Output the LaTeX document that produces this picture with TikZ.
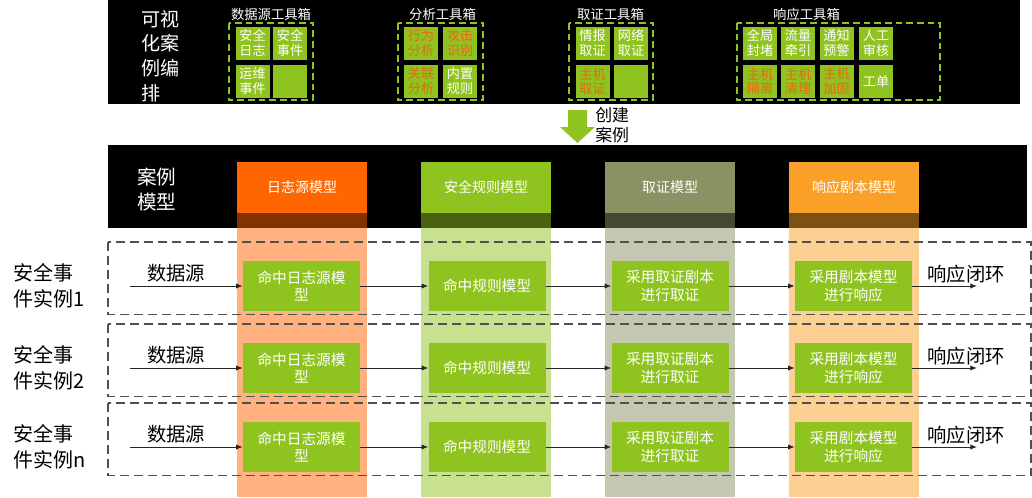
\documentclass[tikz,border=0pt]{standalone}
\usepackage{fontspec}
\setmainfont{Noto Sans CJK SC}
\usetikzlibrary{arrows.meta}
\definecolor{tg}{RGB}{143,195,31}
\definecolor{torange}{RGB}{255,102,0}
\definecolor{tolive}{RGB}{140,145,100}
\definecolor{tamber}{RGB}{250,160,40}
\definecolor{otext}{RGB}{240,100,20}
\definecolor{dashgray}{RGB}{80,80,80}
\begin{document}
\begin{tikzpicture}[x=0.75pt,y=-0.75pt,
 toolsq/.style={fill=tg, minimum width=25.5pt, minimum height=24.75pt, inner sep=0pt, align=center, text=white, font=\fontsize{9.8}{11.2}\selectfont},
 otool/.style={toolsq, text=otext},
 tooltitle/.style={text=white, font=\fontsize{10}{12}\selectfont, inner sep=0pt},
 toolframe/.style={draw=tg, dash pattern=on 5pt off 3pt, line width=1pt},
 header/.style={minimum width=97.5pt, minimum height=38.25pt, inner sep=0pt, text=white, font=\fontsize{10.5}{12}\selectfont},
 procbox/.style={fill=tg, minimum width=87.75pt, minimum height=37.5pt, inner sep=0pt, text=white, align=center, font=\fontsize{11}{13}\selectfont},
 rowframe/.style={draw=dashgray, dash pattern=on 7pt off 3.5pt, line width=0.9pt},
 flow/.style={draw=black!85, line width=0.75pt, -{Latex[length=5pt,width=4pt]}},
 midtext/.style={font=\fontsize{14.5}{18.5}\selectfont, inner sep=0pt},
 sidetext/.style={font=\fontsize{15}{19.5}\selectfont, inner sep=0pt, align=left},
]
\useasboundingbox (0,0) rectangle (1032,497);
% black bands
\fill[black] (108,0) rectangle (1020,104);
\fill[black] (108,145) rectangle (1027,228);

% top band
\node[anchor=west, text=white, font=\fontsize{14.3}{18.4}\selectfont, align=left, inner sep=0pt] (vis) at (141,56) {可视\\化案\\例编\\排};

% data source toolbox
\node[tooltitle] (t1) at (271,14.5) {数据源工具箱};
\draw[toolframe] (229,23) rectangle (313,100);
\node[toolsq] (q11) at (252.5,43) {安全\\日志};
\node[toolsq] (q12) at (290,43) {安全\\事件};
\node[toolsq] (q13) at (252.5,81.5) {运维\\事件};
\node[toolsq] (q14) at (290,81.5) {};

% analysis toolbox
\node[tooltitle] (t2) at (442.5,14.5) {分析工具箱};
\draw[toolframe] (398,23) rectangle (483,100);
\node[otool] (q21) at (421,43) {行为\\分析};
\node[otool] (q22) at (460,43) {攻击\\识别};
\node[otool] (q23) at (421,81.5) {关联\\分析};
\node[toolsq] (q24) at (460,81.5) {内置\\规则};

% forensics toolbox
\node[tooltitle] (t3) at (610.5,14.5) {取证工具箱};
\draw[toolframe] (569,23) rectangle (653,100);
\node[toolsq] (q31) at (592.5,43) {情报\\取证};
\node[toolsq] (q32) at (631,43) {网络\\取证};
\node[otool] (q33) at (592.5,81.5) {主机\\取证};
\node[toolsq] (q34) at (631,81.5) {};

% response toolbox
\node[tooltitle] (t4) at (806.5,14.5) {响应工具箱};
\draw[toolframe] (737,23) rectangle (940,100);
\node[toolsq] (q41) at (760,43) {全局\\封堵};
\node[toolsq] (q42) at (798,43) {流量\\牵引};
\node[toolsq] (q43) at (836.5,43) {通知\\预警};
\node[toolsq] (q44) at (876,43) {人工\\审核};
\node[otool] (q45) at (760,81.5) {主机\\隔离};
\node[otool] (q46) at (798,81.5) {主机\\清理};
\node[otool] (q47) at (836.5,81.5) {主机\\加固};
\node[toolsq] (q48) at (876,81.5) {工单};

% create arrow
\fill[tg] (568,110) -- (587,110) -- (587,127) -- (595,127) -- (577.5,143) -- (560,127) -- (568,127) -- cycle;
\node[anchor=west, font=\fontsize{12.7}{15}\selectfont, align=left, inner sep=0pt] (create) at (595,125.5) {创建\\案例};

% case model band
\node[anchor=west, text=white, font=\fontsize{14.7}{18.75}\selectfont, align=left, inner sep=0pt] (cm) at (137,189.5) {案例\\模型};

% columns
\fill[torange, opacity=0.5] (237,213) rectangle (367,497);
\fill[tg, opacity=0.5] (421,213) rectangle (551,497);
\fill[tolive, opacity=0.5] (605,213) rectangle (735,497);
\fill[tamber, opacity=0.5] (789,213) rectangle (919,497);
\node[header, fill=torange] (h1) at (302,187.5) {日志源模型};
\node[header, fill=tg] (h2) at (486,187.5) {安全规则模型};
\node[header, fill=tolive] (h3) at (670,187.5) {取证模型};
\node[header, fill=tamber] (h4) at (854,187.5) {响应剧本模型};

% instance rows
\foreach \i/\y/\lab in {1/286/1, 2/368/2, 3/447/n}{
  \draw[rowframe] (108,\y-44) rectangle (1031,\y+28.5);
  \node[sidetext, anchor=west] (lab\i) at (13,\y) {安全事\\件实例\lab};
  \node[midtext] (ds\i) at (176,\y-13) {数据源};
  \coordinate (s\i) at (130,\y);
  \node[procbox] (a\i) at (301.5,\y) {命中日志源模\\型};
  \node[procbox] (b\i) at (487,\y) {命中规则模型};
  \node[procbox] (c\i) at (670,\y) {采用取证剧本\\进行取证};
  \node[procbox] (d\i) at (853.5,\y) {采用剧本模型\\进行响应};
  \node[midtext] (rs\i) at (966,\y-12) {响应闭环};
  \coordinate (e\i) at (977,\y);
  \draw[flow] (s\i) -- (a\i);
  \draw[flow] (a\i) -- (b\i);
  \draw[flow] (b\i) -- (c\i);
  \draw[flow] (c\i) -- (d\i);
  \draw[flow] (d\i) -- (e\i);
}
\end{tikzpicture}
\end{document}
